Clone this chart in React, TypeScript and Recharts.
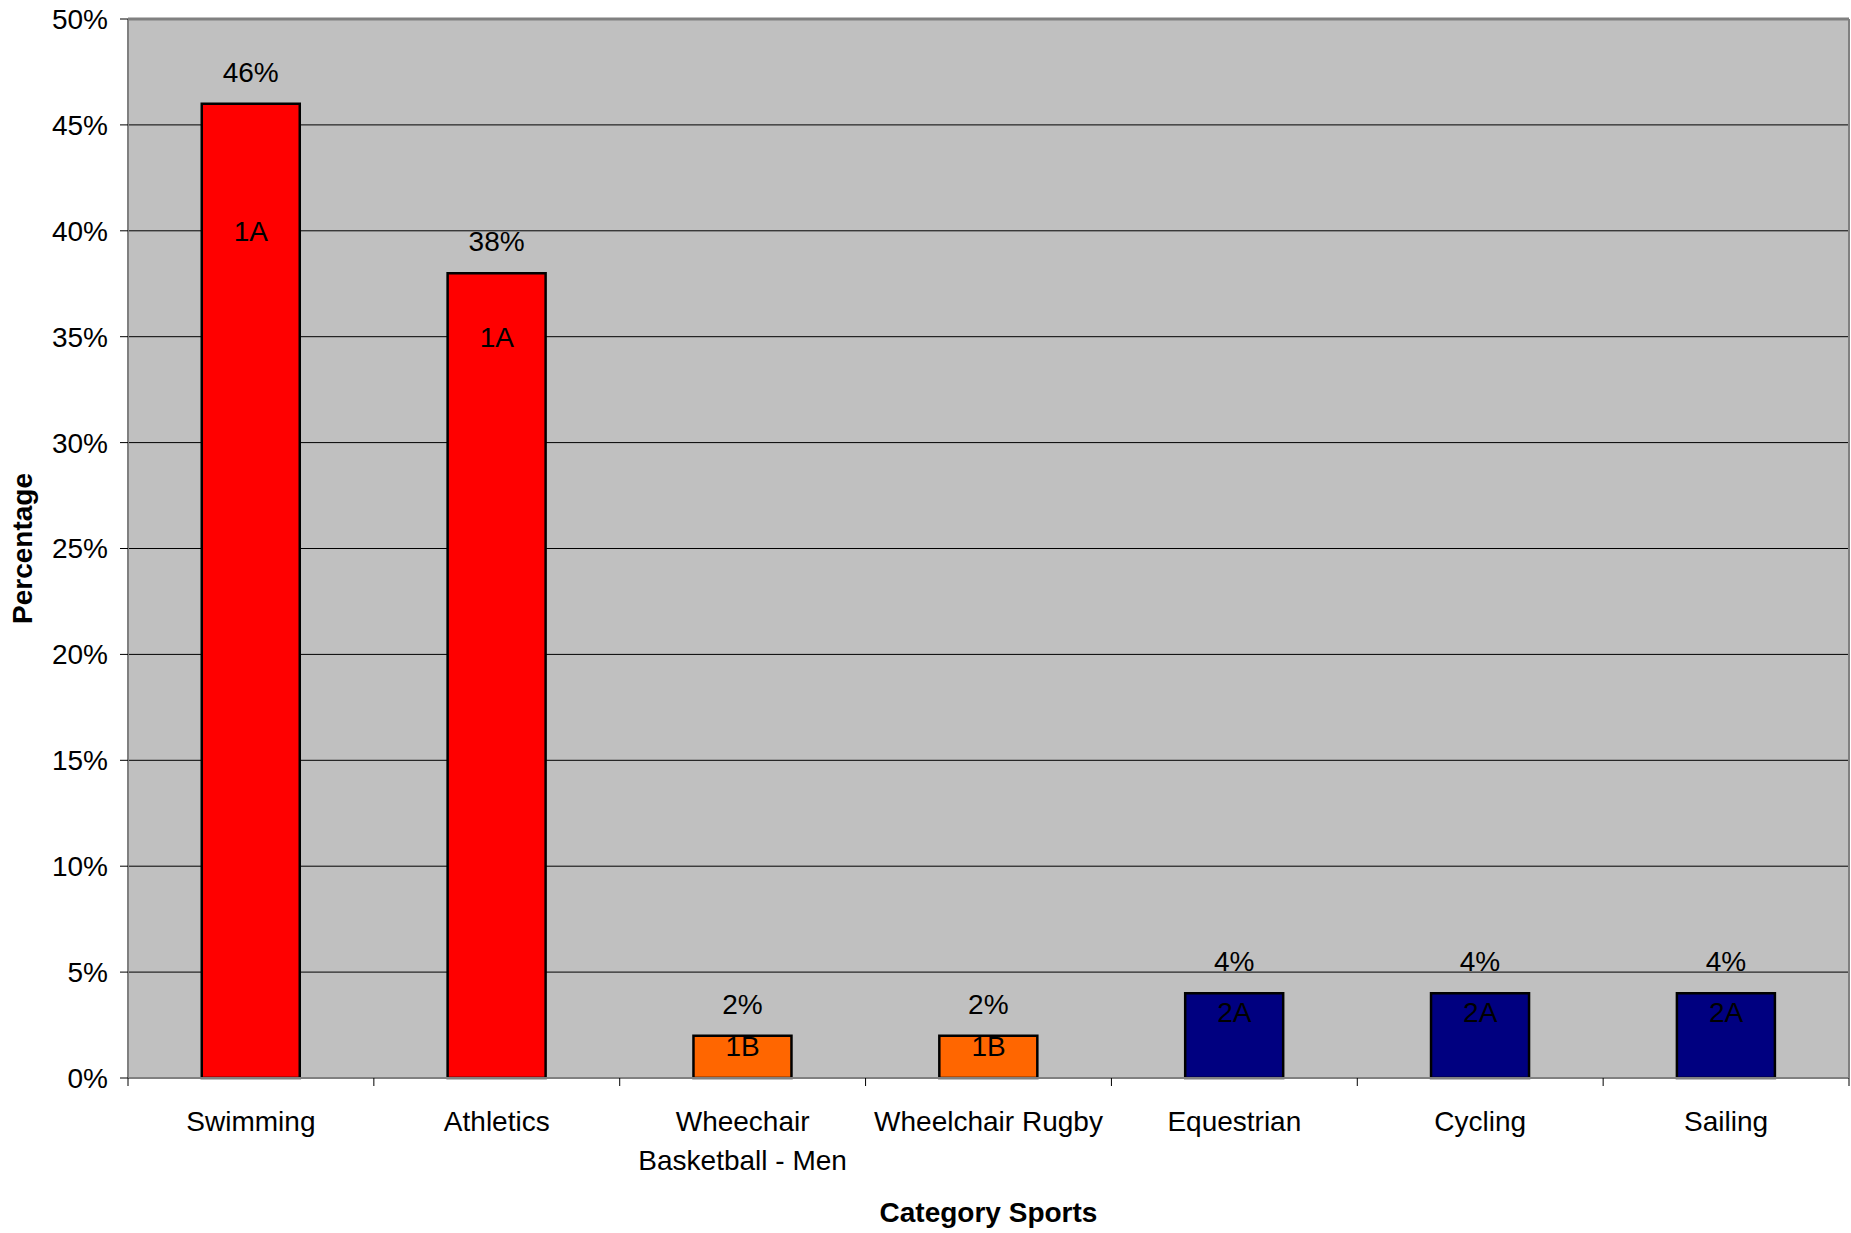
import { ComposedChart, Bar, Cell, Line, XAxis, YAxis, CartesianGrid, LabelList, ReferenceLine } from "recharts"

const sports = ["Swimming", "Athletics", "Wheechair Basketball - Men", "Wheelchair Rugby", "Equestrian", "Cycling", "Sailing"]
const percentages = [46, 38, 2, 2, 4, 4, 4]
const classes = ["1A", "1A", "1B", "1B", "2A", "2A", "2A"]
// where the class label sits inside each bar, in % units
const classLabelPos = [40, 35, 1.5, 1.5, 3.1, 3.1, 3.1]
const yTicks = [0, 5, 10, 15, 20, 25, 30, 35, 40, 45, 50]

const classColors: Record<string, string> = {
  "1A": "#FF0000",
  "1B": "#FF6600",
  "2A": "#000080",
}

const FONT = "'Liberation Sans', Arial, sans-serif"
const MAX_CHARS = 17

const data = sports.map((name, i) => ({
  name,
  pct: percentages[i],
  cls: classes[i],
  clsPos: classLabelPos[i],
}))

// greedy word wrap on character count
function wrap(label: string) {
  const lines: string[] = []
  let cur = ""
  for (const w of label.split(" ")) {
    const next = cur ? cur + " " + w : w
    if (next.length > MAX_CHARS && cur) {
      lines.push(cur)
      cur = w
    } else {
      cur = next
    }
  }
  if (cur) lines.push(cur)
  return lines
}

function SportTick(props: any) {
  const { x, y, payload, index, visibleTicksCount } = props
  const half = payload?.offset ?? 123
  const axisY = y - 33
  const isLast = index === (visibleTicksCount ?? sports.length) - 1
  const lines = wrap(String(payload.value))
  return (
    <g>
      <line x1={x - half} x2={x - half} y1={axisY} y2={axisY + 8} stroke="#000" strokeWidth={1} />
      {isLast && <line x1={x + half} x2={x + half} y1={axisY} y2={axisY + 8} stroke="#000" strokeWidth={1} />}
      <text x={x} y={y + 20} textAnchor="middle" fontSize={28} fontFamily={FONT} fill="#000">
        {lines.map((l, i) => (
          <tspan key={i} x={x} dy={i === 0 ? 0 : 39}>
            {l}
          </tspan>
        ))}
      </text>
    </g>
  )
}

function ClassLabel(props: any) {
  const { x, y, value } = props
  return (
    <text x={x} y={y} dy="0.35em" textAnchor="middle" fontSize={28} fontFamily={FONT} fill="#000">
      {value}
    </text>
  )
}

function YTitle(props: any) {
  const vb = props.viewBox
  const cx = vb.x + 22
  const cy = vb.y + vb.height / 2
  return (
    <text
      x={cx}
      y={cy}
      dy="0.35em"
      transform={`rotate(-90 ${cx} ${cy})`}
      textAnchor="middle"
      fontSize={28}
      fontWeight="bold"
      fontFamily={FONT}
      fill="#000"
    >
      Percentage
    </text>
  )
}

export default function App() {
  return (
    <div style={{ position: "absolute", left: 0, top: 0, background: "#fff" }}>
      <ComposedChart
        width={1851}
        height={1233}
        data={data}
        margin={{ top: 19, right: 0, bottom: 0, left: 0 }}
        barCategoryGap="30%"
      >
        <CartesianGrid vertical={false} stroke="#000" strokeWidth={1} fill="#C0C0C0" fillOpacity={1} />
        <XAxis
          dataKey="name"
          height={155}
          interval={0}
          axisLine={{ stroke: "#808080", strokeWidth: 2 }}
          tickLine={false}
          tickSize={8}
          tickMargin={25}
          tick={<SportTick />}
          label={{ value: "Category Sports", position: "insideBottom", offset: 11, fontSize: 28, fontWeight: "bold", fontFamily: FONT, fill: "#000" }}
        />
        <YAxis
          width={128}
          domain={[0, 50]}
          ticks={yTicks}
          interval={0}
          tickFormatter={(v: number) => `${v}%`}
          tick={{ fontSize: 28, fontFamily: FONT, fill: "#000" }}
          tickSize={8}
          tickMargin={12}
          tickLine={{ stroke: "#000" }}
          axisLine={{ stroke: "#808080", strokeWidth: 2 }}
          label={{ content: <YTitle /> }}
        />
        <YAxis yAxisId="frame" orientation="right" width={2} tick={false} tickLine={false} axisLine={{ stroke: "#808080", strokeWidth: 2 }} />
        <ReferenceLine y={50} stroke="#808080" strokeWidth={3} />
        <Bar dataKey="pct" stroke="#000" strokeWidth={2.5} isAnimationActive={false}>
          {data.map((d, i) => (
            <Cell key={i} fill={classColors[d.cls]} />
          ))}
          <LabelList
            dataKey="pct"
            position="top"
            offset={22}
            formatter={(v: any) => `${v}%`}
            fontSize={28}
            fontFamily={FONT}
            fill="#000"
          />
        </Bar>
        <Line dataKey="clsPos" stroke="none" dot={false} activeDot={false} isAnimationActive={false}>
          <LabelList dataKey="cls" content={<ClassLabel />} />
        </Line>
      </ComposedChart>
    </div>
  )
}
